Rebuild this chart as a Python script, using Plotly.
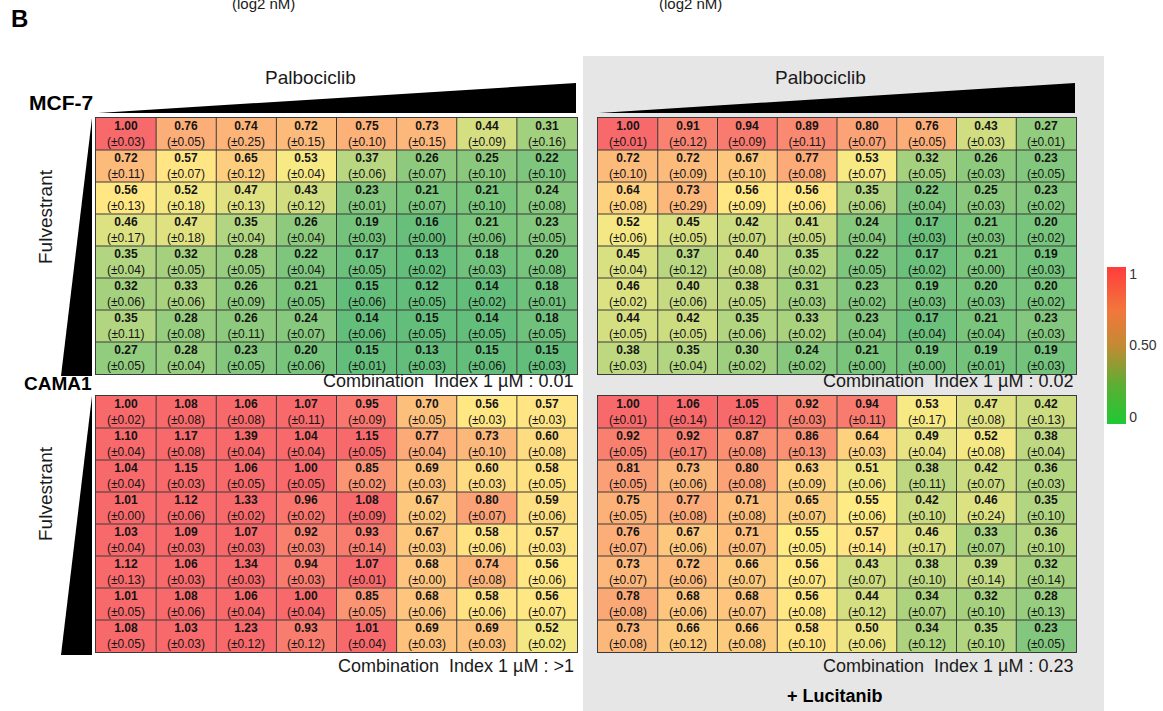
import plotly.graph_objects as go

W, H = 1163, 711

# ---------------- data ----------------
palbo_steps = list(range(8))      # Palbociclib concentration index (columns)
fulv_steps = list(range(8))       # Fulvestrant concentration index (rows)

mcf7_ctrl = [
    [1.00, 0.76, 0.74, 0.72, 0.75, 0.73, 0.44, 0.31],
    [0.72, 0.57, 0.65, 0.53, 0.37, 0.26, 0.25, 0.22],
    [0.56, 0.52, 0.47, 0.43, 0.23, 0.21, 0.21, 0.24],
    [0.46, 0.47, 0.35, 0.26, 0.19, 0.16, 0.21, 0.23],
    [0.35, 0.32, 0.28, 0.22, 0.17, 0.13, 0.18, 0.20],
    [0.32, 0.33, 0.26, 0.21, 0.15, 0.12, 0.14, 0.18],
    [0.35, 0.28, 0.26, 0.24, 0.14, 0.15, 0.14, 0.18],
    [0.27, 0.28, 0.23, 0.20, 0.15, 0.13, 0.15, 0.15],
]
mcf7_ctrl_err = [
    [0.03, 0.05, 0.25, 0.15, 0.10, 0.15, 0.09, 0.16],
    [0.11, 0.07, 0.12, 0.04, 0.06, 0.07, 0.10, 0.10],
    [0.13, 0.18, 0.13, 0.12, 0.01, 0.07, 0.10, 0.08],
    [0.17, 0.18, 0.04, 0.04, 0.03, 0.00, 0.06, 0.05],
    [0.04, 0.05, 0.05, 0.04, 0.05, 0.02, 0.03, 0.08],
    [0.06, 0.06, 0.09, 0.05, 0.06, 0.05, 0.02, 0.01],
    [0.11, 0.08, 0.11, 0.07, 0.06, 0.05, 0.05, 0.05],
    [0.05, 0.04, 0.05, 0.06, 0.01, 0.03, 0.06, 0.03],
]
mcf7_luci = [
    [1.00, 0.91, 0.94, 0.89, 0.80, 0.76, 0.43, 0.27],
    [0.72, 0.72, 0.67, 0.77, 0.53, 0.32, 0.26, 0.23],
    [0.64, 0.73, 0.56, 0.56, 0.35, 0.22, 0.25, 0.23],
    [0.52, 0.45, 0.42, 0.41, 0.24, 0.17, 0.21, 0.20],
    [0.45, 0.37, 0.40, 0.35, 0.22, 0.17, 0.21, 0.19],
    [0.46, 0.40, 0.38, 0.31, 0.23, 0.19, 0.20, 0.20],
    [0.44, 0.42, 0.35, 0.33, 0.23, 0.17, 0.21, 0.23],
    [0.38, 0.35, 0.30, 0.24, 0.21, 0.19, 0.19, 0.19],
]
mcf7_luci_err = [
    [0.01, 0.12, 0.09, 0.11, 0.07, 0.05, 0.03, 0.01],
    [0.10, 0.09, 0.10, 0.08, 0.07, 0.05, 0.03, 0.05],
    [0.08, 0.29, 0.09, 0.06, 0.06, 0.04, 0.03, 0.02],
    [0.06, 0.05, 0.07, 0.05, 0.04, 0.03, 0.03, 0.02],
    [0.04, 0.12, 0.08, 0.02, 0.05, 0.02, 0.00, 0.03],
    [0.02, 0.06, 0.05, 0.03, 0.02, 0.03, 0.03, 0.02],
    [0.05, 0.05, 0.06, 0.02, 0.04, 0.04, 0.04, 0.03],
    [0.03, 0.04, 0.02, 0.02, 0.00, 0.00, 0.01, 0.03],
]
cama1_ctrl = [
    [1.00, 1.08, 1.06, 1.07, 0.95, 0.70, 0.56, 0.57],
    [1.10, 1.17, 1.39, 1.04, 1.15, 0.77, 0.73, 0.60],
    [1.04, 1.15, 1.06, 1.00, 0.85, 0.69, 0.60, 0.58],
    [1.01, 1.12, 1.33, 0.96, 1.08, 0.67, 0.80, 0.59],
    [1.03, 1.09, 1.07, 0.92, 0.93, 0.67, 0.58, 0.57],
    [1.12, 1.06, 1.34, 0.94, 1.07, 0.68, 0.74, 0.56],
    [1.01, 1.08, 1.06, 1.00, 0.85, 0.68, 0.58, 0.56],
    [1.08, 1.03, 1.23, 0.93, 1.01, 0.69, 0.69, 0.52],
]
cama1_ctrl_err = [
    [0.02, 0.08, 0.08, 0.11, 0.09, 0.05, 0.03, 0.03],
    [0.04, 0.08, 0.04, 0.04, 0.05, 0.04, 0.10, 0.08],
    [0.04, 0.03, 0.05, 0.05, 0.02, 0.03, 0.03, 0.05],
    [0.00, 0.06, 0.02, 0.02, 0.09, 0.02, 0.07, 0.06],
    [0.04, 0.03, 0.03, 0.03, 0.14, 0.03, 0.06, 0.03],
    [0.13, 0.03, 0.03, 0.03, 0.01, 0.00, 0.08, 0.06],
    [0.05, 0.06, 0.04, 0.04, 0.05, 0.06, 0.06, 0.07],
    [0.05, 0.03, 0.12, 0.12, 0.04, 0.03, 0.03, 0.02],
]
cama1_luci = [
    [1.00, 1.06, 1.05, 0.92, 0.94, 0.53, 0.47, 0.42],
    [0.92, 0.92, 0.87, 0.86, 0.64, 0.49, 0.52, 0.38],
    [0.81, 0.73, 0.80, 0.63, 0.51, 0.38, 0.42, 0.36],
    [0.75, 0.77, 0.71, 0.65, 0.55, 0.42, 0.46, 0.35],
    [0.76, 0.67, 0.71, 0.55, 0.57, 0.46, 0.33, 0.36],
    [0.73, 0.72, 0.66, 0.56, 0.43, 0.38, 0.39, 0.32],
    [0.78, 0.68, 0.68, 0.56, 0.44, 0.34, 0.32, 0.28],
    [0.73, 0.66, 0.66, 0.58, 0.50, 0.34, 0.35, 0.23],
]
cama1_luci_err = [
    [0.01, 0.14, 0.12, 0.03, 0.11, 0.17, 0.08, 0.13],
    [0.05, 0.17, 0.08, 0.13, 0.03, 0.04, 0.08, 0.04],
    [0.05, 0.06, 0.08, 0.09, 0.06, 0.11, 0.07, 0.03],
    [0.05, 0.08, 0.08, 0.07, 0.06, 0.10, 0.24, 0.10],
    [0.07, 0.06, 0.07, 0.05, 0.14, 0.17, 0.07, 0.10],
    [0.07, 0.06, 0.07, 0.07, 0.07, 0.10, 0.14, 0.14],
    [0.08, 0.06, 0.07, 0.08, 0.12, 0.07, 0.10, 0.13],
    [0.08, 0.12, 0.08, 0.10, 0.06, 0.12, 0.10, 0.05],
]
ci_labels = ["0.01", "0.02", ">1", "0.23"]
cbar_ticks = [0, 0.5, 1]
cbar_ticktext = ["0", "0.50", "1"]

# ---------------- helpers ----------------
def px(x):
    return x / W

def py(y):
    return 1 - y / H

FONT = "Arial, Liberation Sans, sans-serif"
GRID = "#3a3a3a"
cell_scale = [[0.0, "#63be7b"], [0.47, "#ffeb84"], [1.0, "#f8696b"]]
bar_scale = [[0.0, "#1fc935"], [0.25, "#5cae33"], [0.5, "#c48a33"],
             [0.72, "#f2773c"], [1.0, "#ff3c3c"]]

panels = [
    (mcf7_ctrl, mcf7_ctrl_err, (96, 577), (118, 374)),
    (mcf7_luci, mcf7_luci_err, (598, 1076), (118, 374)),
    (cama1_ctrl, cama1_ctrl_err, (96, 577), (396, 652)),
    (cama1_luci, cama1_luci_err, (598, 1076), (396, 652)),
]

fig = go.Figure()
layout_axes = {}
shapes = [
    # grey panel behind the Lucitanib heatmaps
    dict(type="rect", xref="paper", yref="paper", x0=px(583), x1=px(1104),
         y0=py(711), y1=py(56), fillcolor="#e6e6e6", line=dict(width=0), layer="below"),
]
for i, (z, err, (x0, x1), (y0, y1)) in enumerate(panels):
    k = "" if i == 0 else str(i + 1)
    txt = [["(±%.2f)" % e for e in row] for row in err]
    fig.add_trace(go.Heatmap(
        z=z, x=palbo_steps, y=fulv_steps, text=txt,
        texttemplate="<b>%{z:.2f}</b><br>%{text}",
        textfont=dict(family=FONT, size=12, color="#141414"),
        colorscale=cell_scale, zmin=0.15, zmax=1.0, showscale=False,
        hoverinfo="skip", xaxis="x" + k, yaxis="y" + k))
    axcommon = dict(showgrid=False, zeroline=False, showticklabels=False,
                    ticks="", showline=True, mirror=True, linecolor=GRID,
                    linewidth=1, fixedrange=True)
    layout_axes["xaxis" + k] = dict(domain=[px(x0), px(x1)], range=[-0.5, 7.5],
                                    anchor="y" + k, **axcommon)
    layout_axes["yaxis" + k] = dict(domain=[py(y1), py(y0)], range=[7.5, -0.5],
                                    anchor="x" + k, **axcommon)
    # cell borders
    for j in range(7):
        b = palbo_steps[j] + 0.5
        shapes.append(dict(type="line", xref="x" + k, yref="y" + k, layer="above",
                           x0=b, x1=b, y0=-0.5, y1=7.5, line=dict(color=GRID, width=1)))
        b = fulv_steps[j] + 0.5
        shapes.append(dict(type="line", xref="x" + k, yref="y" + k, layer="above",
                           x0=-0.5, x1=7.5, y0=b, y1=b, line=dict(color=GRID, width=1)))

# colorbar legend
fig.add_trace(go.Scatter(
    x=[None], y=[None], mode="markers", hoverinfo="skip", showlegend=False,
    marker=dict(color=[0.5], colorscale=bar_scale, cmin=-0.05, cmax=1.05,
                showscale=True,
                colorbar=dict(x=px(1107), xanchor="left", y=py(267), yanchor="top",
                              len=157 / H, lenmode="fraction", thickness=19,
                              thicknessmode="pixels", xpad=0, ypad=0,
                              outlinewidth=0, tickvals=cbar_ticks,
                              ticktext=cbar_ticktext, ticks="",
                              tickfont=dict(family=FONT, size=14, color="#333")))))

# concentration wedges
for (xa, xb) in [(98, 576), (599, 1075)]:
    shapes.append(dict(type="path", xref="paper", yref="paper", layer="above",
                       path=f"M {px(xa)},{py(113)} L {px(xb)},{py(83)} L {px(xb)},{py(113)} Z",
                       fillcolor="black", line=dict(width=0)))
for (ya, yb) in [(118, 376), (396, 655)]:
    shapes.append(dict(type="path", xref="paper", yref="paper", layer="above",
                       path=f"M {px(92)},{py(ya)} L {px(92)},{py(yb)} L {px(61)},{py(yb)} Z",
                       fillcolor="black", line=dict(width=0)))

sp = "\u00a0"
ann = []
def add_text(text, x, y, size, bold=False, xanchor="center", yanchor="middle",
             angle=0, color="#1a1a1a"):
    ann.append(dict(text=f"<b>{text}</b>" if bold else text, x=px(x), y=py(y),
                    xref="paper", yref="paper", showarrow=False, xanchor=xanchor,
                    yanchor=yanchor, textangle=angle,
                    font=dict(family=FONT, size=size, color=color)))

add_text("B", 9, 19, 24, bold=True, xanchor="left", color="#000")
add_text("(log2 nM)", 263, 14, 15, yanchor="bottom")
add_text("(log2 nM)", 690, 14, 15, yanchor="bottom")
add_text("Palbociclib", 310, 77, 19)
add_text("Palbociclib", 820, 77, 19)
add_text("MCF-7", 95, 103, 21, bold=True, xanchor="right", color="#000")
add_text("CAMA1", 94, 383, 19, bold=True, xanchor="right", color="#000")
add_text("Fulvestrant", 45, 217, 19, angle=-90)
add_text("Fulvestrant", 45, 494, 19, angle=-90)
ci_pos = [(576, 381), (1076, 381), (576, 666), (1076, 666)]
for lab, (x, y) in zip(ci_labels, ci_pos):
    add_text(f"Combination{sp*2}Index{sp}1{sp}µM{sp}:{sp}{lab}", x, y, 18,
             xanchor="right")
add_text("+ Lucitanib", 835, 696, 18, bold=True, color="#000")

fig.update_layout(
    width=W, height=H, autosize=False,
    margin=dict(l=0, r=0, t=0, b=0, pad=0),
    paper_bgcolor="white", plot_bgcolor="white",
    showlegend=False, shapes=shapes, annotations=ann,
    **layout_axes)

fig.write_html("out.html", config={"displayModeBar": False},
               post_script="document.body.style.margin='0';"
                           "document.body.style.overflow='hidden';")
